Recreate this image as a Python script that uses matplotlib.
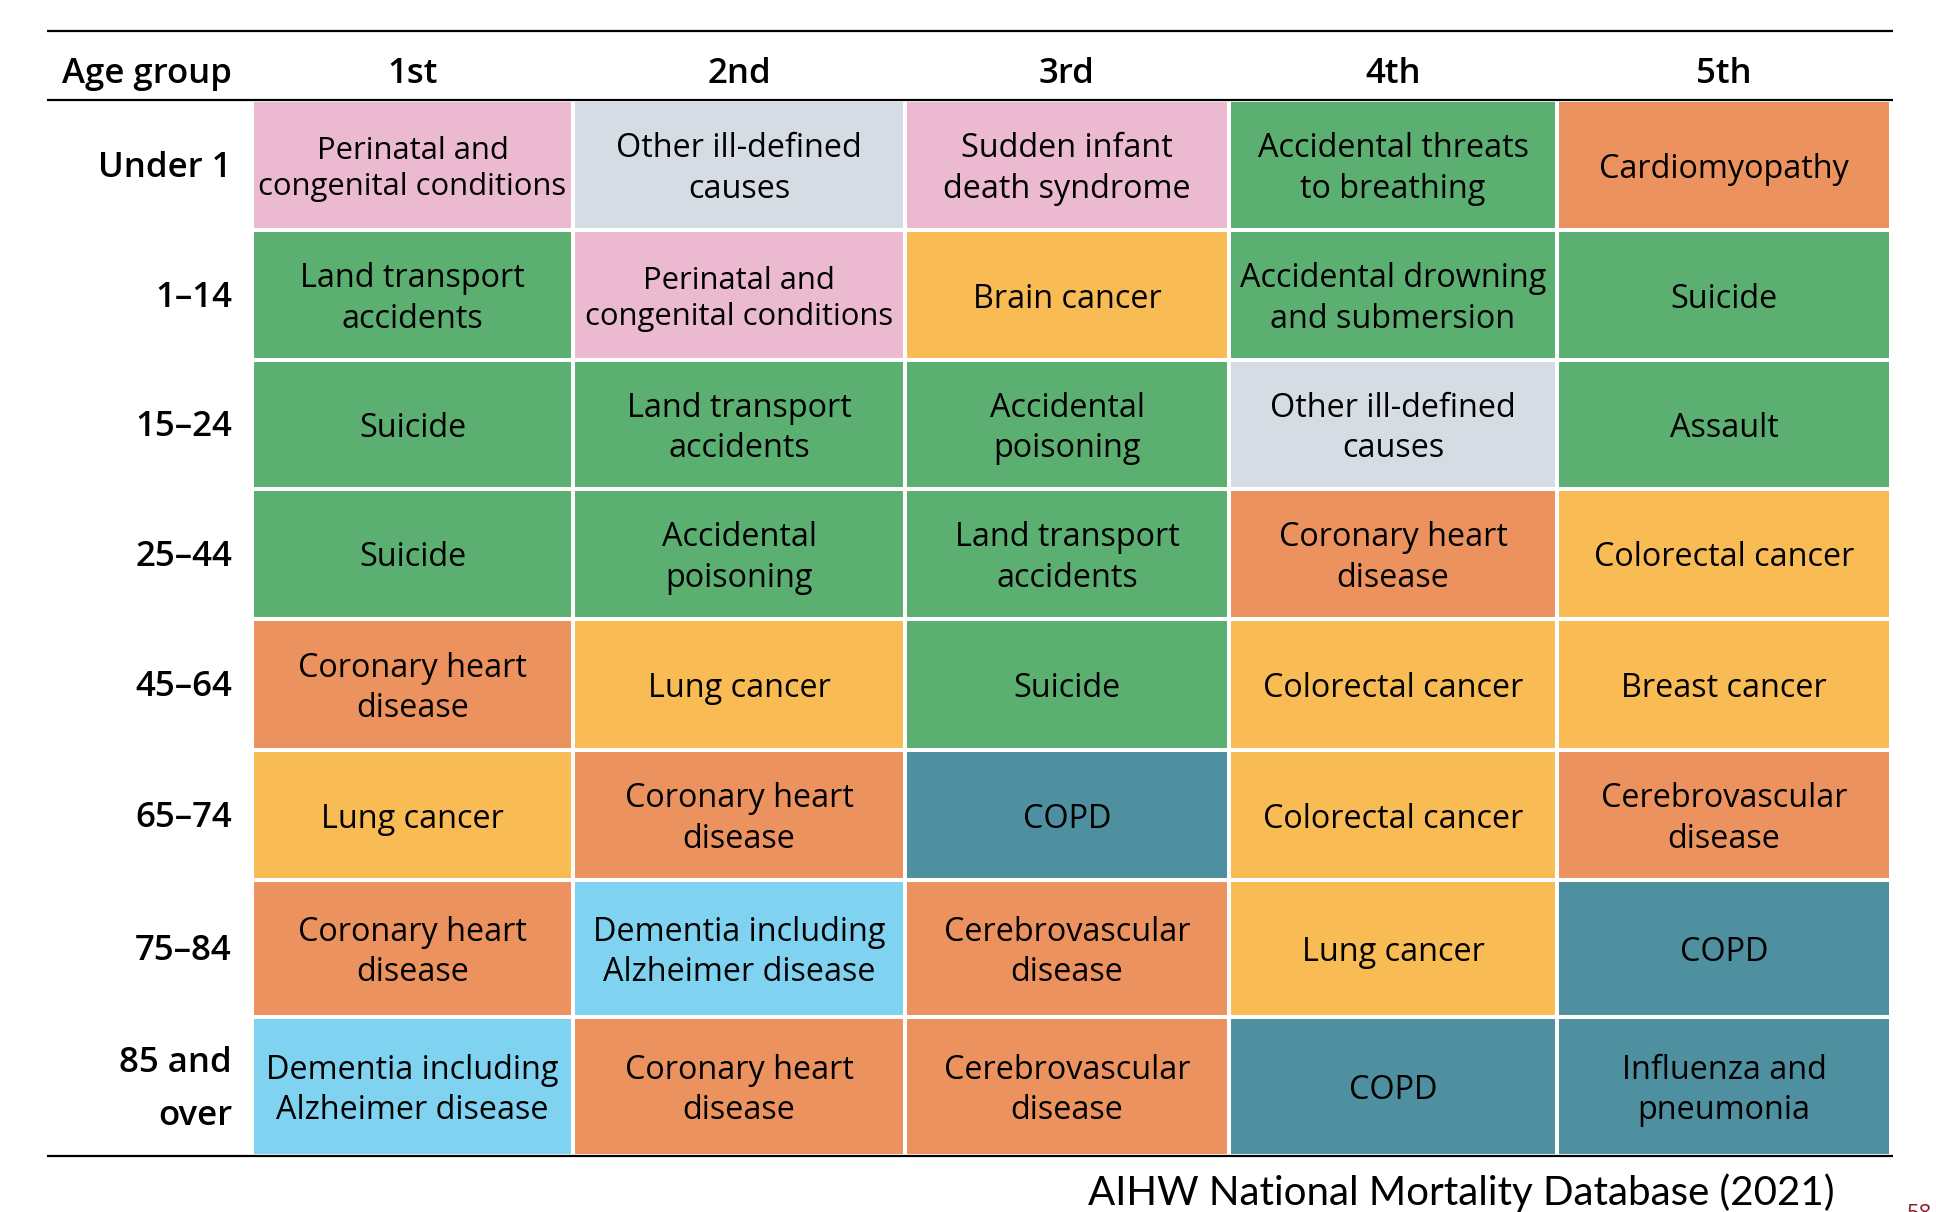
import matplotlib
matplotlib.use("Agg")
import matplotlib.pyplot as plt

plt.rcParams['font.family'] = ['Open Sans', 'DejaVu Sans']

# --- data -------------------------------------------------------------
age_groups = ["Under 1", "1–14", "15–24", "25–44", "45–64", "65–74", "75–84", "85 and\nover"]
ranks = ["1st", "2nd", "3rd", "4th", "5th"]

leading_causes = [
    ["Perinatal and\ncongenital conditions", "Other ill-defined\ncauses", "Sudden infant\ndeath syndrome",
     "Accidental threats\nto breathing", "Cardiomyopathy"],
    ["Land transport\naccidents", "Perinatal and\ncongenital conditions", "Brain cancer",
     "Accidental drowning\nand submersion", "Suicide"],
    ["Suicide", "Land transport\naccidents", "Accidental\npoisoning", "Other ill-defined\ncauses", "Assault"],
    ["Suicide", "Accidental\npoisoning", "Land transport\naccidents", "Coronary heart\ndisease", "Colorectal cancer"],
    ["Coronary heart\ndisease", "Lung cancer", "Suicide", "Colorectal cancer", "Breast cancer"],
    ["Lung cancer", "Coronary heart\ndisease", "COPD", "Colorectal cancer", "Cerebrovascular\ndisease"],
    ["Coronary heart\ndisease", "Dementia including\nAlzheimer disease", "Cerebrovascular\ndisease",
     "Lung cancer", "COPD"],
    ["Dementia including\nAlzheimer disease", "Coronary heart\ndisease", "Cerebrovascular\ndisease",
     "COPD", "Influenza and\npneumonia"],
]

cause_group = {
    "Perinatal and congenital conditions": "perinatal",
    "Sudden infant death syndrome": "perinatal",
    "Other ill-defined causes": "ill-defined",
    "Accidental threats to breathing": "injury",
    "Accidental drowning and submersion": "injury",
    "Land transport accidents": "injury",
    "Accidental poisoning": "injury",
    "Suicide": "injury",
    "Assault": "injury",
    "Cardiomyopathy": "circulatory",
    "Coronary heart disease": "circulatory",
    "Cerebrovascular disease": "circulatory",
    "Brain cancer": "cancer",
    "Colorectal cancer": "cancer",
    "Lung cancer": "cancer",
    "Breast cancer": "cancer",
    "COPD": "respiratory",
    "Influenza and pneumonia": "respiratory",
    "Dementia including Alzheimer disease": "dementia",
}

source = "AIHW National Mortality Database (2021)"

# --- styles / layout (pixels of the 1936x1212 canvas) -------------------
group_colors = {
    "perinatal": "#EBBAD0",
    "ill-defined": "#D5DCE3",
    "injury": "#5AAF71",
    "circulatory": "#EC925E",
    "cancer": "#F9BC55",
    "respiratory": "#4E8FA0",
    "dementia": "#7FD2F0",
}
col_edges = [252, 573, 905, 1229, 1557, 1891]
row_edges = [100, 230, 360, 489, 619, 750, 880, 1017, 1156]
rule_left, rule_right = 47, 1893
label_right = 232
cell_size = 23.3
max_text_w = 308

fig = plt.figure(figsize=(19.36, 12.12), dpi=100)
ax = fig.add_axes([0, 0, 1, 1])
ax.set_xlim(0, 1936)
ax.set_ylim(1212, 0)
ax.axis("off")
renderer = fig.canvas.get_renderer()

for i, row in enumerate(leading_causes):
    top, bottom = row_edges[i], row_edges[i + 1]
    for j, cause in enumerate(row):
        left, right = col_edges[j], col_edges[j + 1]
        color = group_colors[cause_group[cause.replace("\n", " ")]]
        ax.bar(left, bottom - top, width=right - left, bottom=top, align="edge",
               color=color, edgecolor="white", linewidth=2.9)
        t = ax.text((left + right) / 2, (top + bottom) / 2 + 4, cause, ha="center", va="center",
                    fontsize=cell_size, linespacing=1.3, color="black")
        # long lines are squeezed a little in the original
        w = t.get_window_extent(renderer).width
        if w > max_text_w:
            t.set_fontsize(cell_size * max_text_w / w)
    ax.text(label_right, (top + bottom) / 2 + 3, age_groups[i], ha="right", va="center",
            fontsize=25, fontweight="semibold", linespacing=1.75, color="black")

# header
ax.text(label_right, 83, "Age group", ha="right", va="baseline", fontsize=25,
        fontweight="semibold", color="black")
for j, r in enumerate(ranks):
    ax.text((col_edges[j] + col_edges[j + 1]) / 2, 83, r, ha="center", va="baseline",
            fontsize=25, fontweight="semibold", color="black")

# rules
for y in (31, row_edges[0], row_edges[-1]):
    ax.plot([rule_left, rule_right], [y, y], color="black", linewidth=1.6,
            solid_capstyle="butt")

ax.text(1835, 1205, source, ha="right", va="baseline", fontsize=29,
        family=["Lato", "DejaVu Sans"], color="black")
ax.text(1907, 1204, "58", ha="left", va="top", fontsize=16, color="#8B1A2B")

fig.savefig("out.png", dpi=100)
